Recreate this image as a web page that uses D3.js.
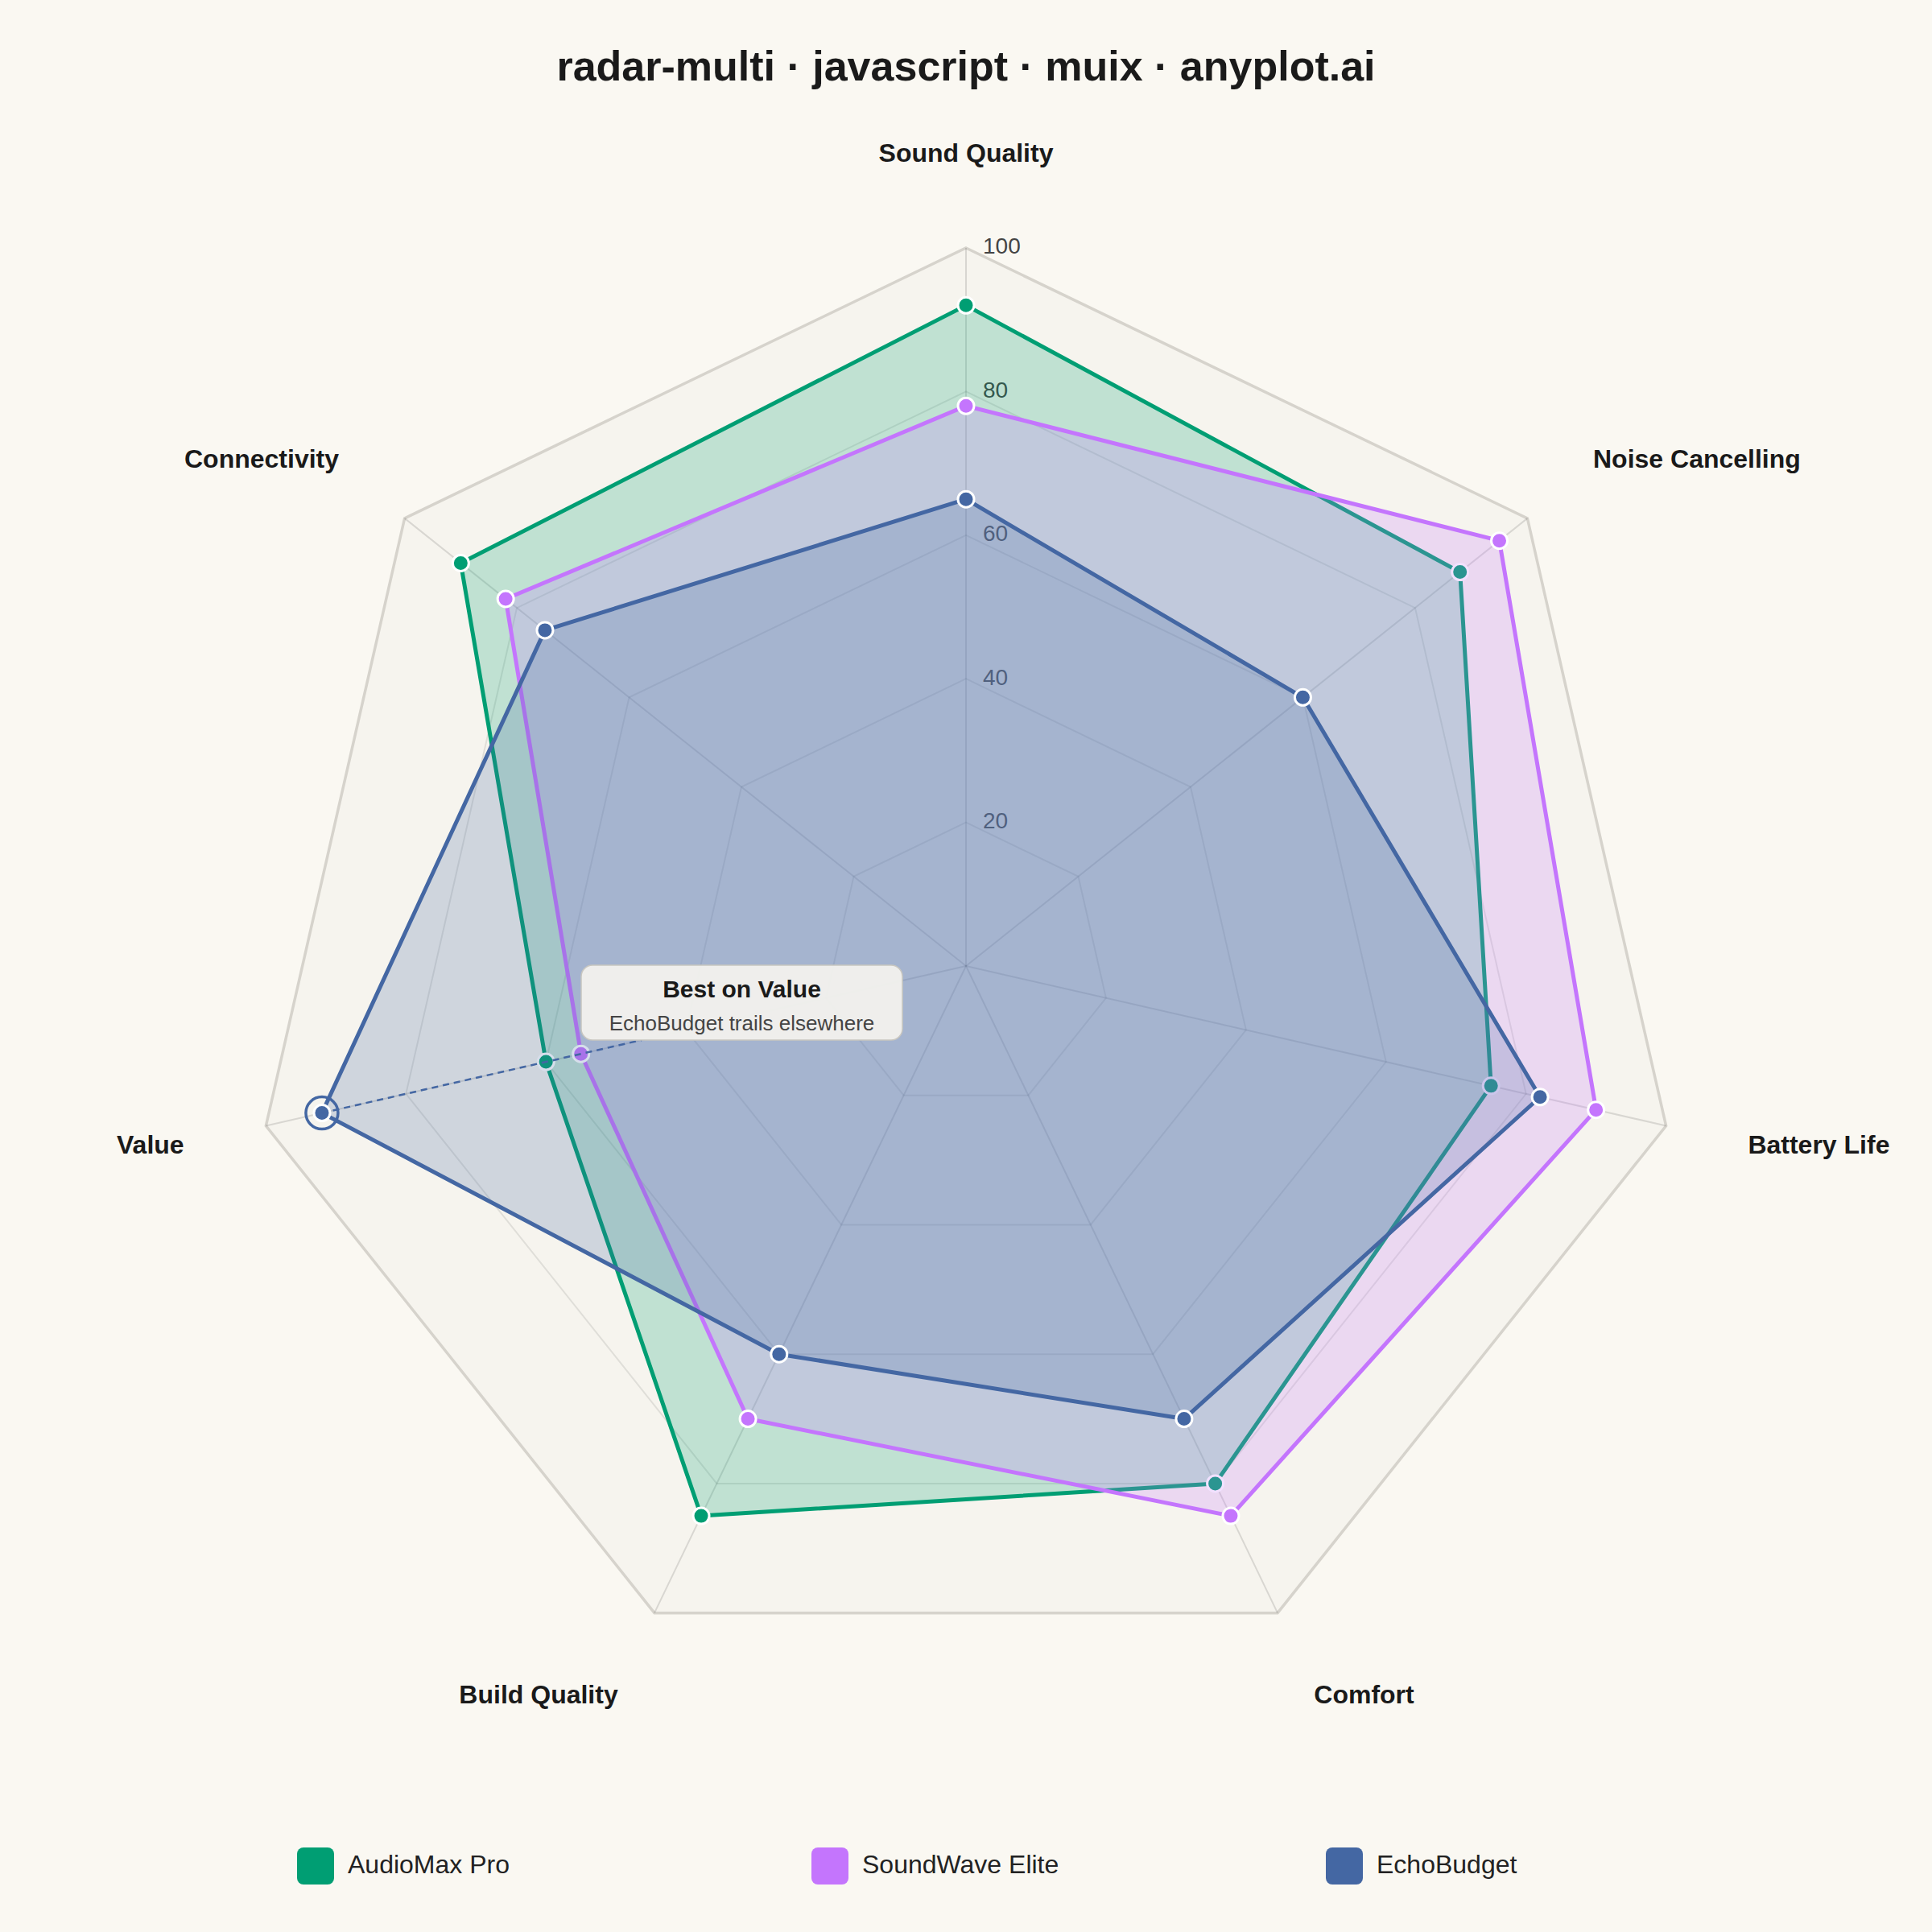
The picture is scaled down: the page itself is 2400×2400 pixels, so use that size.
<!DOCTYPE html>
<html>
<head>
<meta charset="utf-8">
<script src="https://cdn.jsdelivr.net/npm/d3@7"></script>
<style>
  body { margin: 0; background: #faf8f2; }
  svg { display: block; font-family: "Liberation Sans", Arial, sans-serif; }
</style>
</head>
<body>
<div id="chart"></div>
<script>
// Data
const categories = ["Sound Quality", "Noise Cancelling", "Battery Life", "Comfort", "Build Quality", "Value", "Connectivity"];
const seriesNames = ["AudioMax Pro", "SoundWave Elite", "EchoBudget"];
const audioMax = [92, 88, 75, 80, 85, 60, 90];
const soundWave = [78, 95, 90, 85, 70, 55, 82];
const echoBudget = [65, 60, 82, 70, 60, 92, 75];
const levels = [20, 40, 60, 80, 100];

const seriesValues = [audioMax, soundWave, echoBudget];
const colors = ["#009E73", "#C475FD", "#4467A3"];

const width = 2400, height = 2400;
const cx = 1200, cy = 1200;
const radius = 892;

const svg = d3.select("#chart")
  .append("svg")
  .attr("width", width)
  .attr("height", height);

svg.append("rect")
  .attr("width", width)
  .attr("height", height)
  .attr("fill", "#faf8f2");

// Title
svg.append("text")
  .attr("x", cx)
  .attr("y", 86)
  .attr("text-anchor", "middle")
  .attr("dominant-baseline", "middle")
  .attr("font-size", 52)
  .attr("font-weight", "bold")
  .attr("fill", "#1a1a1a")
  .text("radar-multi · javascript · muix · anyplot.ai");

const g = svg.append("g")
  .attr("transform", `translate(${cx},${cy})`);

// Scales
const r = d3.scaleLinear().domain([0, 100]).range([0, radius]);
const angle = d3.scaleLinear()
  .domain([0, categories.length])
  .range([0, 2 * Math.PI]);

const px = (i, v) => r(v) * Math.sin(angle(i));
const py = (i, v) => -r(v) * Math.cos(angle(i));

const radial = d3.lineRadial()
  .angle((d, i) => angle(i))
  .radius(d => r(d))
  .curve(d3.curveLinearClosed);

// Grid polygons
const grid = g.append("g");
levels.slice().reverse().forEach(level => {
  const outer = level === 100;
  grid.append("path")
    .attr("d", radial(categories.map(() => level)))
    .attr("fill", outer ? "#f6f4ee" : "none")
    .attr("stroke", outer ? "#d6d3cc" : "rgba(0,0,0,0.09)")
    .attr("stroke-width", outer ? 3.5 : 2);
});

// Spokes
categories.forEach((c, i) => {
  grid.append("line")
    .attr("x1", 0).attr("y1", 0)
    .attr("x2", px(i, 100)).attr("y2", py(i, 100))
    .attr("stroke", "rgba(0,0,0,0.12)")
    .attr("stroke-width", 2);
});

// Tick labels on the first axis
levels.forEach(level => {
  grid.append("text")
    .attr("x", 21)
    .attr("y", -r(level))
    .attr("dominant-baseline", "middle")
    .attr("font-size", 28)
    .attr("fill", "#444")
    .text(level);
});

// Axis labels
categories.forEach((c, i) => {
  const x = px(i, 111.7), y = py(i, 112.9);
  const anchor = Math.abs(x) < 1 ? "middle" : (x > 0 ? "start" : "end");
  g.append("text")
    .attr("x", x)
    .attr("y", y)
    .attr("text-anchor", anchor)
    .attr("dominant-baseline", "middle")
    .attr("font-size", 32)
    .attr("font-weight", "bold")
    .attr("fill", "#1a1a1a")
    .text(c);
});

// Series
seriesValues.forEach((vals, s) => {
  const sg = g.append("g");
  sg.append("path")
    .attr("d", radial(vals))
    .attr("fill", colors[s])
    .attr("fill-opacity", 0.22)
    .attr("stroke", colors[s])
    .attr("stroke-width", 5)
    .attr("stroke-linejoin", "round");

  sg.selectAll("circle")
    .data(vals)
    .enter()
    .append("circle")
    .attr("cx", (d, i) => px(i, d))
    .attr("cy", (d, i) => py(i, d))
    .attr("r", 10)
    .attr("fill", colors[s])
    .attr("stroke", "#ffffff")
    .attr("stroke-width", 3);
});

// Annotation for EchoBudget on Value
const vi = categories.indexOf("Value");
const vx = px(vi, echoBudget[vi]), vy = py(vi, echoBudget[vi]);
const box = {x: 722 - cx, y: 1199 - cy, w: 399, h: 93};

// dashed leader runs along the spoke toward the centre, stopping at the box
const t = (box.y + box.h - vy) / (0 - vy);
g.append("line")
  .attr("x1", vx).attr("y1", vy)
  .attr("x2", vx + (0 - vx) * t).attr("y2", box.y + box.h)
  .attr("stroke", colors[2])
  .attr("stroke-width", 2.5)
  .attr("stroke-dasharray", "8,6");

g.append("circle")
  .attr("cx", vx).attr("cy", vy)
  .attr("r", 20)
  .attr("fill", "none")
  .attr("stroke", colors[2])
  .attr("stroke-width", 3.5);

g.append("rect")
  .attr("x", box.x).attr("y", box.y)
  .attr("width", box.w).attr("height", box.h)
  .attr("rx", 14)
  .attr("fill", "#f2f1ed")
  .attr("fill-opacity", 0.95)
  .attr("stroke", "#c8c6c0")
  .attr("stroke-width", 1.5);

g.append("text")
  .attr("x", box.x + box.w / 2)
  .attr("y", box.y + 32)
  .attr("text-anchor", "middle")
  .attr("dominant-baseline", "middle")
  .attr("font-size", 30)
  .attr("font-weight", "bold")
  .attr("fill", "#1a1a1a")
  .text("Best on Value");

g.append("text")
  .attr("x", box.x + box.w / 2)
  .attr("y", box.y + 74)
  .attr("text-anchor", "middle")
  .attr("dominant-baseline", "middle")
  .attr("font-size", 26)
  .attr("fill", "#444")
  .text("EchoBudget trails elsewhere");

// Legend
const legend = svg.append("g")
  .attr("transform", "translate(369, 2295)");

seriesNames.forEach((name, i) => {
  legend.append("rect")
    .attr("x", i * 639)
    .attr("y", 0)
    .attr("width", 46)
    .attr("height", 46)
    .attr("rx", 8)
    .attr("fill", colors[i]);

  legend.append("text")
    .attr("x", i * 639 + 63)
    .attr("y", 24)
    .attr("dominant-baseline", "middle")
    .attr("font-size", 32)
    .attr("fill", "#222")
    .text(name);
});
</script>
</body>
</html>
